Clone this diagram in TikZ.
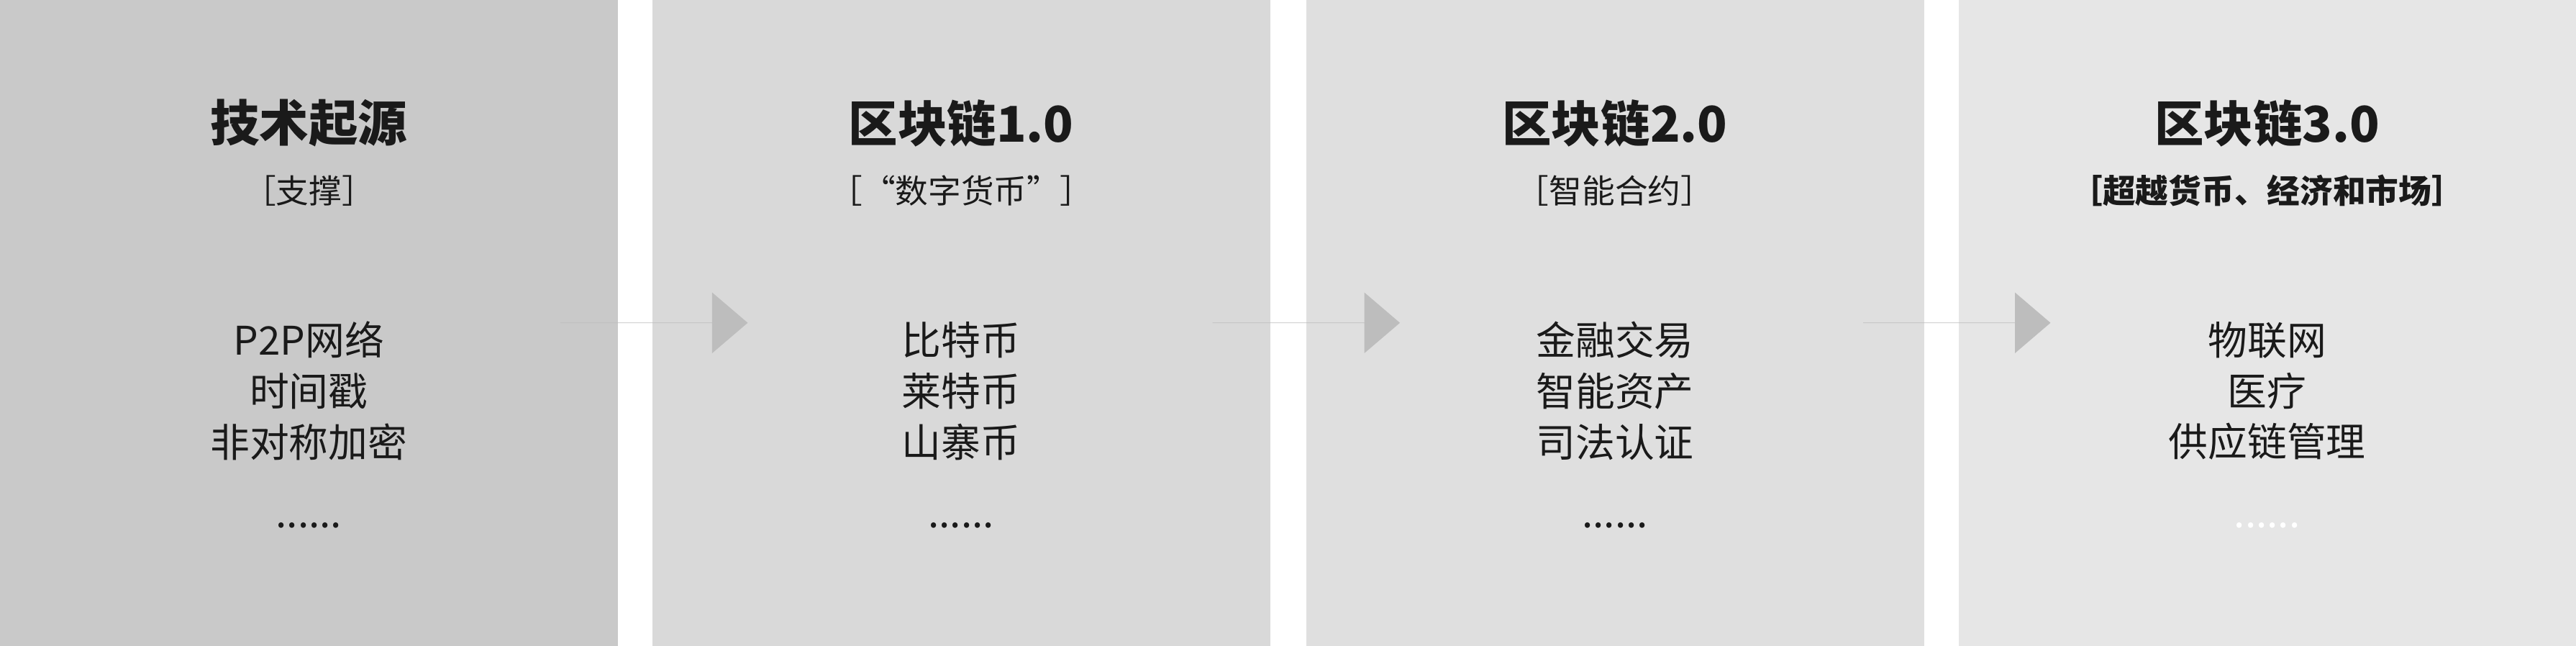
\documentclass[tikz,border=0pt]{standalone}
\usepackage{fontspec}
\setmainfont{Noto Sans CJK SC}
\usetikzlibrary{positioning}
\usetikzlibrary{shapes.arrows}

\definecolor{panelA}{HTML}{C9C9C9}
\definecolor{panelB}{HTML}{D9D9D9}
\definecolor{panelC}{HTML}{DFDFDF}
\definecolor{panelD}{HTML}{E6E6E6}
\definecolor{arrowgray}{HTML}{BDBDBD}
\definecolor{ink}{HTML}{1A1A1A}

\begin{document}
\begin{tikzpicture}[x=1pt, y=-1pt]
\tikzstyle{panel}=[anchor=north west, minimum width=376pt, minimum height=393pt, inner sep=0pt]
\tikzstyle{title}=[text=ink, font=\fontsize{30}{34}\selectfont\bfseries]
\tikzstyle{sub}=[text=ink, font=\fontsize{20}{24}\selectfont]
\tikzstyle{items}=[text=ink, align=center, font=\fontsize{24}{31}\selectfont]
\tikzstyle{flow}=[single arrow, fill=arrowgray, minimum height=114pt, minimum width=37pt,
    single arrow head extend=18pt, single arrow tip angle=81, inner sep=0pt]

\useasboundingbox (0,0) rectangle (1568,393);

% Panels
\node[panel, fill=panelA] (p1) at (0,0) {};
\node[panel, fill=panelB] (p2) at (397,0) {};
\node[panel, fill=panelC] (p3) at (795,0) {};
\node[panel, fill=panelD] (p4) at (1192,0) {};

% Technology origin
\node[title] (t1) at (188,75) {技术起源};
\node[sub] (s1) at (188,116) {［支撑］};
\node[items] (i1) at (188,238) {P2P网络\\时间戳\\非对称加密};
\node[items] (d1) at (188,320) {......};

% Blockchain 1.0
\node[title] (t2) at (585,75) {区块链1.0};
\node[sub] (s2) at (585,116) {［“数字货币”］};
\node[items] (i2) at (585,238) {比特币\\莱特币\\山寨币};
\node[items] (d2) at (585,320) {......};

% Blockchain 2.0
\node[title] (t3) at (983,75) {区块链2.0};
\node[sub] (s3) at (983,116) {［智能合约］};
\node[items] (i3) at (983,238) {金融交易\\智能资产\\司法认证};
\node[items] (d3) at (983,320) {......};

% Blockchain 3.0
\node[title] (t4) at (1380,75) {区块链3.0};
\node[sub, font=\fontsize{20}{24}\selectfont\bfseries] (s4) at (1380,116) {［超越货币、经济和市场］};
\node[items] (i4) at (1380,238) {物联网\\医疗\\供应链管理};
\node[items, text=white] (d4) at (1380,320) {......};

% Arrows
\node[flow] (a1) at (398,196.5) {};
\node[flow] (a2) at (795,196.5) {};
\node[flow] (a3) at (1191,196.5) {};

\end{tikzpicture}
\end{document}
